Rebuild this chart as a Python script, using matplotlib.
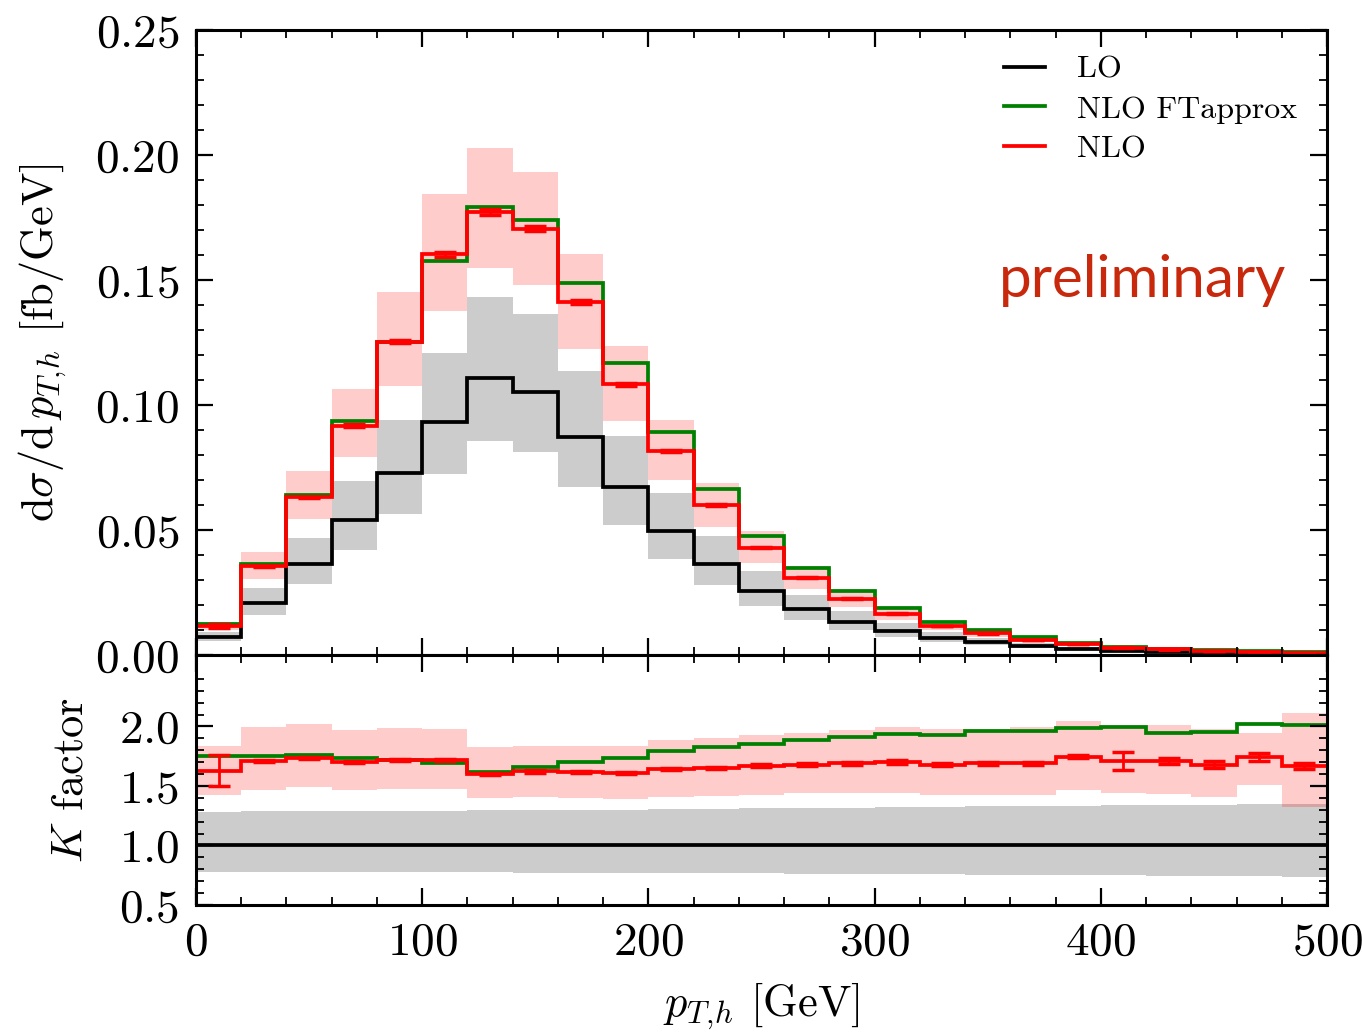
import matplotlib
matplotlib.use("Agg")
import matplotlib.pyplot as plt
import numpy as np
from matplotlib.lines import Line2D
from matplotlib.ticker import MultipleLocator, FixedLocator

plt.rcParams["font.family"] = "serif"
plt.rcParams["font.serif"] = ["cmr10"]
plt.rcParams["mathtext.fontset"] = "cm"
plt.rcParams["axes.formatter.use_mathtext"] = True
plt.rcParams["axes.unicode_minus"] = False

# 20 GeV bins from 0 to 500 GeV
bin_edges = np.arange(0, 520, 20)

# LO differential cross section [fb/GeV]
lo_xsec = [0.0071, 0.0207, 0.0364, 0.0540, 0.0729, 0.0933, 0.1107, 0.1051, 0.0873,
           0.0673, 0.0497, 0.0363, 0.0257, 0.0184, 0.0133, 0.0097, 0.0069, 0.0051,
           0.0036, 0.0025, 0.0017, 0.0013, 0.0010, 0.0007, 0.0005]

# LO scale band relative to LO central value
lo_band_hi = [1.285, 1.286, 1.288, 1.289, 1.291, 1.293, 1.295, 1.297, 1.300, 1.302,
              1.305, 1.308, 1.311, 1.315, 1.318, 1.322, 1.325, 1.328, 1.331, 1.334,
              1.337, 1.340, 1.343, 1.346, 1.350]
lo_band_lo = [0.780, 0.779, 0.778, 0.777, 0.776, 0.775, 0.774, 0.773, 0.772, 0.771,
              0.769, 0.768, 0.766, 0.764, 0.762, 0.760, 0.758, 0.756, 0.754, 0.752,
              0.750, 0.747, 0.744, 0.741, 0.738]

# K factors (ratio to LO)
k_ftapprox = [1.755, 1.749, 1.760, 1.732, 1.720, 1.690, 1.620, 1.656, 1.704, 1.735,
              1.797, 1.825, 1.850, 1.887, 1.915, 1.938, 1.927, 1.958, 1.958, 1.986,
              1.994, 1.944, 1.950, 2.022, 2.008]
k_nlo = [1.628, 1.713, 1.732, 1.700, 1.720, 1.718, 1.600, 1.623, 1.617, 1.608,
         1.642, 1.650, 1.670, 1.680, 1.690, 1.700, 1.680, 1.690, 1.690, 1.746,
         1.707, 1.710, 1.680, 1.743, 1.667]
k_nlo_err = [0.130, 0.008, 0.008, 0.008, 0.008, 0.010, 0.010, 0.010, 0.010, 0.010,
             0.010, 0.010, 0.012, 0.012, 0.012, 0.014, 0.012, 0.014, 0.014, 0.012,
             0.077, 0.028, 0.028, 0.034, 0.028]
nlo_band_hi = [1.834, 1.994, 2.017, 1.972, 1.990, 1.975, 1.831, 1.839, 1.837, 1.837,
               1.890, 1.900, 1.925, 1.944, 1.972, 1.994, 1.977, 1.980, 1.994, 2.042,
               2.008, 2.008, 1.980, 1.945, 2.115]
nlo_band_lo = [1.423, 1.465, 1.493, 1.468, 1.476, 1.476, 1.397, 1.408, 1.403, 1.389,
               1.408, 1.414, 1.425, 1.437, 1.437, 1.445, 1.423, 1.428, 1.425, 1.465,
               1.437, 1.430, 1.410, 1.505, 1.324]

legend_labels = ["LO", "NLO FTapprox", "NLO"]

c_lo = "black"
c_ft = "#008000"
c_nlo = "#ff0000"
lw = 2.7

lo = np.array(lo_xsec)
centers = 0.5 * (bin_edges[:-1] + bin_edges[1:])

fig = plt.figure(figsize=(13.62, 10.35), dpi=100)
ax1 = fig.add_axes([0.1439, 0.36715, 0.8304, 0.60386])
ax2 = fig.add_axes([0.1439, 0.12560, 0.8304, 0.24155], sharex=ax1)

# --- main panel ---
ax1.stairs(lo * np.array(lo_band_hi), bin_edges, baseline=lo * np.array(lo_band_lo),
           fill=True, color="black", alpha=0.2, lw=0)
ax1.stairs(lo * np.array(nlo_band_hi), bin_edges, baseline=lo * np.array(nlo_band_lo),
           fill=True, color="red", alpha=0.2, lw=0)
ax1.stairs(lo, bin_edges, baseline=None, color=c_lo, lw=lw)
ax1.stairs(lo * np.array(k_ftapprox), bin_edges, baseline=None, color=c_ft, lw=lw)
ax1.stairs(lo * np.array(k_nlo), bin_edges, baseline=None, color=c_nlo, lw=lw)
ax1.errorbar(centers, lo * np.array(k_nlo), yerr=lo * np.array(k_nlo_err), fmt="none",
             ecolor=c_nlo, elinewidth=2, capsize=8, capthick=2.5)

ax1.set_xlim(0, 500)
ax1.set_ylim(0, 0.25)
ax1.yaxis.set_major_locator(MultipleLocator(0.05))
ax1.yaxis.set_minor_locator(MultipleLocator(0.01))
ax1.set_ylabel(r"$\mathrm{d}\sigma/\mathrm{d}\,p_{T,\!h}$ [fb/GeV]", fontsize=32)
ax1.yaxis.set_label_coords(-0.112, 0.5)
ax1.tick_params(labelbottom=False)

ax1.text(482, 0.1432, "preliminary", family="Lato", fontsize=42, color="#c8280c",
         ha="right", va="baseline")

handles = [Line2D([], [], color=c, lw=lw) for c in (c_lo, c_ft, c_nlo)]
ax1.legend(handles, legend_labels, loc="upper right", bbox_to_anchor=(0.999, 1.005),
           frameon=False, fontsize=23, handlelength=1.3, handletextpad=1.0,
           labelspacing=0.35)

# --- ratio panel ---
ones = np.ones(len(lo))
ax2.stairs(lo_band_hi, bin_edges, baseline=lo_band_lo, fill=True, color="black",
           alpha=0.2, lw=0)
ax2.stairs(nlo_band_hi, bin_edges, baseline=nlo_band_lo, fill=True, color="red",
           alpha=0.2, lw=0)
ax2.stairs(ones, bin_edges, baseline=None, color=c_lo, lw=lw)
ax2.stairs(k_ftapprox, bin_edges, baseline=None, color=c_ft, lw=lw)
ax2.stairs(k_nlo, bin_edges, baseline=None, color=c_nlo, lw=lw)
ax2.errorbar(centers, k_nlo, yerr=k_nlo_err, fmt="none", ecolor=c_nlo,
             elinewidth=2, capsize=8, capthick=2.5)

ax2.set_ylim(0.5, 2.6)
ax2.yaxis.set_major_locator(FixedLocator([0.5, 1.0, 1.5, 2.0]))
ax2.yaxis.set_minor_locator(FixedLocator(np.arange(0.6, 2.45, 0.1)))
ax2.xaxis.set_major_locator(MultipleLocator(100))
ax2.xaxis.set_minor_locator(MultipleLocator(20))
ax2.set_ylabel(r"$K$ factor", fontsize=32)
ax2.yaxis.set_label_coords(-0.092, 0.5)
ax2.set_xlabel(r"$p_{T,\!h}$ [GeV]", fontsize=32, labelpad=12)

for ax in (ax1, ax2):
    ax.tick_params(which="both", direction="in", top=True, right=True)
    ax.tick_params(which="major", length=12, width=1.6, labelsize=34, pad=12)
    ax.tick_params(which="minor", length=6, width=1.3)
    for sp in ax.spines.values():
        sp.set_linewidth(2.2)

fig.savefig("out.png", dpi=100)
